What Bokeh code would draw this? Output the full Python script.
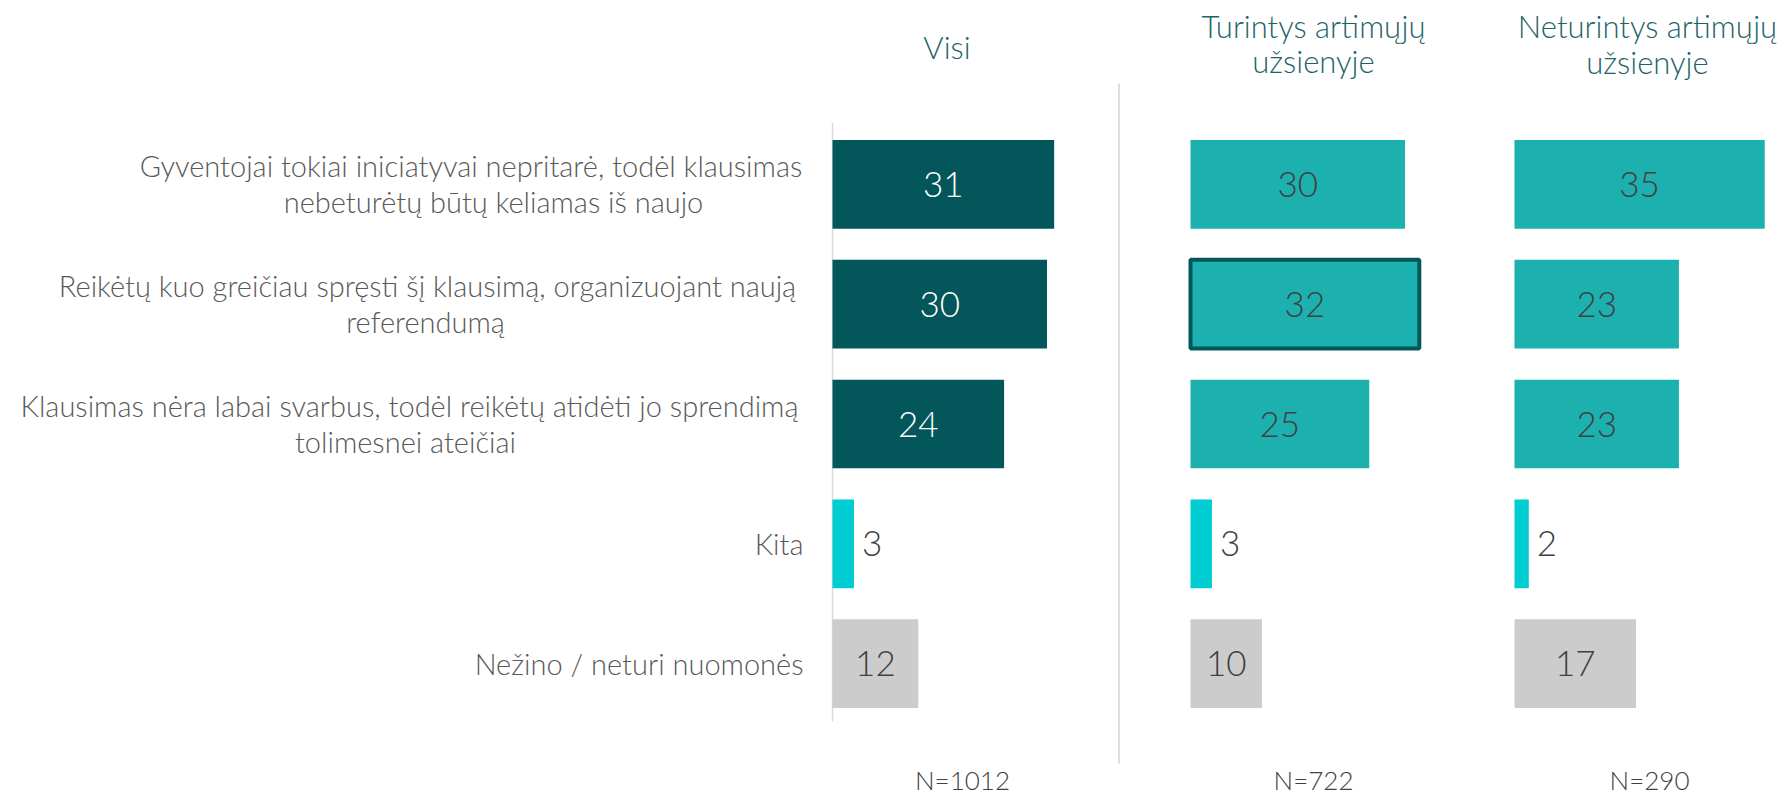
from bokeh.plotting import figure
from bokeh.models import Range1d
from bokeh.core.properties import value
from bokeh.embed import file_html
from bokeh.resources import INLINE

# ---------------- data ----------------
category_lines = [
    ["Gyventojai tokiai iniciatyvai nepritarė, todėl klausimas", "nebeturėtų būtų keliamas iš naujo"],
    ["Reikėtų kuo greičiau spręsti šį klausimą, organizuojant naują", "referendumą"],
    ["Klausimas nėra labai svarbus, todėl reikėtų atidėti jo sprendimą", "tolimesnei ateičiai"],
    ["Kita"],
    ["Nežino / neturi nuomonės"],
]
visi = [31, 30, 24, 3, 12]
turintys = [30, 32, 25, 3, 10]
neturintys = [35, 23, 23, 2, 17]
group_titles = [["Visi"], ["Turintys artimųjų", "užsienyje"], ["Neturintys artimųjų", "užsienyje"]]
n_labels = ["N=1012", "N=722", "N=290"]

# ---------------- layout / style ----------------
W, H, M = 1780, 795, 0
PX = 7.15                      # pixels per percentage point
ORIGINS = [832, 1190, 1514]    # page x of each panel's zero
ROW0, PITCH = 183.9, 119.8     # page y of first row centre, row pitch
BAR_H = 0.74
FONT = value("Lato Light, Lato")
DARK, TEAL, CYAN, GREY = "#03565a", "#1cb1ae", "#00cdd2", "#cccccc"
TXT = "#595959"
VAL = "#404040"
HEAD = "#1d6466"

def fx(px):  # page x -> first panel data x
    return (px - ORIGINS[0]) / PX

def fy(py):  # page y -> data y
    return (py - ROW0) / PITCH

p = figure(width=W, height=H, output_backend="svg", toolbar_location=None,
           min_border=0, min_border_left=0, min_border_right=0,
           min_border_top=0, min_border_bottom=0,
           x_range=Range1d(-(ORIGINS[0] - M) / PX, -(ORIGINS[0] - M) / PX + W / PX),
           y_range=Range1d(fy(H + M), fy(M)))
p.extra_x_ranges = {
    "p1": Range1d(-(ORIGINS[1] - M) / PX, -(ORIGINS[1] - M) / PX + W / PX),
    "p2": Range1d(-(ORIGINS[2] - M) / PX, -(ORIGINS[2] - M) / PX + W / PX),
}
p.axis.visible = False
p.grid.visible = False
p.outline_line_color = None
p.background_fill_color = "white"
p.border_fill_color = "white"

idx = list(range(len(visi)))

# axis line for first panel and separator
p.segment(x0=[0], y0=[fy(122.6)], x1=[0], y1=[fy(721)], line_color="#d9d9d9", line_width=1.5)
p.segment(x0=[fx(1118.5)], y0=[fy(83)], x1=[fx(1118.5)], y1=[fy(763)], line_color="#d4d4d4", line_width=1.5)

panels = [
    (visi, "default", [DARK, DARK, DARK, CYAN, GREY], ["white", "white", "white", VAL, VAL]),
    (turintys, "p1", [TEAL, TEAL, TEAL, CYAN, GREY], [VAL] * 5),
    (neturintys, "p2", [TEAL, TEAL, TEAL, CYAN, GREY], [VAL] * 5),
]

for vals, rname, colors, tcolors in panels:
    p.hbar(y=idx, left=0, right=vals, height=BAR_H, fill_color=colors,
           line_color=None, x_range_name=rname)
    inside = [i for i in idx if i != 3]
    p.text(x=[vals[i] / 2 for i in inside], y=inside, text=[str(vals[i]) for i in inside],
           text_color=[tcolors[i] for i in inside], text_font=FONT, text_font_size="35px",
           text_align="center", text_baseline="middle", x_range_name=rname)
    p.text(x=[vals[3]], y=[3], text=[str(vals[3])], text_color=tcolors[3], text_font=FONT,
           text_font_size="35px", text_align="left", text_baseline="middle",
           x_offset=8, x_range_name=rname)

# highlighted bar (Turintys, second answer)
p.hbar(y=[1], left=0, right=[turintys[1]], height=BAR_H, fill_color=None,
       line_color=DARK, line_width=4, x_range_name="p1")

# category labels
label_centres = [[470.5, 493], [427, 425], [409, 405], [None], [None]]
for i, lines in enumerate(category_lines):
    if len(lines) == 1:
        p.text(x=[fx(803)], y=[i], text=[lines[0]], text_color=TXT, text_font=FONT,
               text_font_size="29px", text_align="right", text_baseline="middle")
    else:
        for j, line in enumerate(lines):
            p.text(x=[fx(label_centres[i][j])], y=[i], text=[line], text_color=TXT, text_font=FONT,
                   text_font_size="29px", text_align="center", text_baseline="middle",
                   y_offset=[-19, 17][j])

# group titles
title_centres = [946.5, 1313, 1647]
title_mid = [[46.7], [25.7, 60.7], [25.7, 61.5]]
for k, lines in enumerate(group_titles):
    for j, line in enumerate(lines):
        p.text(x=[fx(title_centres[k])], y=[fy(title_mid[k][j])], text=[line], text_color=HEAD,
               text_font=FONT, text_font_size="31px", text_align="center", text_baseline="middle")

# N labels
n_centres = [962, 1313, 1649]
p.text(x=[fx(c) for c in n_centres], y=[fy(779)] * 3, text=n_labels, text_color=VAL, text_font=FONT,
       text_font_size="26px", text_align="center", text_baseline="middle")

open("out.html", "w").write(file_html(p, INLINE))
